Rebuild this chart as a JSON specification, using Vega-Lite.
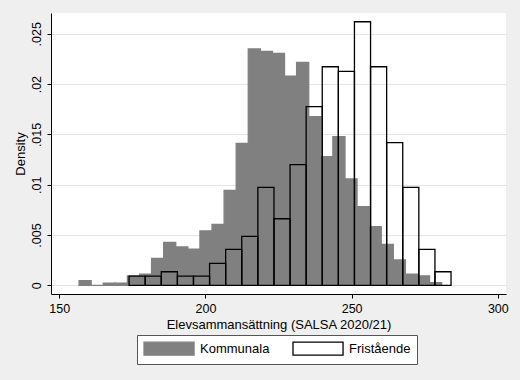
{
  "$schema": "https://vega.github.io/schema/vega-lite/v6.json",
  "width": 455,
  "height": 281,
  "autosize": {"type": "none"},
  "padding": {"left": 51, "top": 13, "right": 14, "bottom": 86},
  "background": "#efefef",
  "config": {
    "view": {"fill": "white", "stroke": null},
    "font": "Liberation Sans",
    "axis": {
      "domainColor": "black",
      "tickColor": "black",
      "labelColor": "black",
      "titleColor": "black",
      "labelFontSize": 12.5,
      "titleFontSize": 13,
      "titleFontWeight": "normal",
      "gridColor": "#e4e4e4",
      "tickSize": 4,
      "labelPadding": 4
    },
    "legend": {
      "orient": "none",
      "legendX": 86,
      "legendY": 322,
      "direction": "horizontal",
      "title": null,
      "symbolType": "M-1,-1H6.7V1H-1Z",
      "symbolSize": 169,
      "symbolStrokeWidth": 1.3,
      "labelOffset": 42,
      "labelFontSize": 13,
      "labelColor": "black",
      "columnPadding": 20,
      "padding": 6,
      "fillColor": "white",
      "strokeColor": "#555555",
      "cornerRadius": 0
    }
  },
  "data": {
    "values": [
      {"group": "Kommunala", "x0": 156.8, "x1": 160.93, "density": 0.00046},
      {"group": "Kommunala", "x0": 160.93, "x1": 165.07, "density": 0},
      {"group": "Kommunala", "x0": 165.07, "x1": 169.2, "density": 0.00023},
      {"group": "Kommunala", "x0": 169.2, "x1": 173.33, "density": 0.00023},
      {"group": "Kommunala", "x0": 173.33, "x1": 177.47, "density": 0.00095},
      {"group": "Kommunala", "x0": 177.47, "x1": 181.6, "density": 0.00112},
      {"group": "Kommunala", "x0": 181.6, "x1": 185.73, "density": 0.00268},
      {"group": "Kommunala", "x0": 185.73, "x1": 189.86, "density": 0.00427},
      {"group": "Kommunala", "x0": 189.86, "x1": 194.0, "density": 0.00381},
      {"group": "Kommunala", "x0": 194.0, "x1": 198.13, "density": 0.00361},
      {"group": "Kommunala", "x0": 198.13, "x1": 202.26, "density": 0.0054},
      {"group": "Kommunala", "x0": 202.26, "x1": 206.4, "density": 0.00606},
      {"group": "Kommunala", "x0": 206.4, "x1": 210.53, "density": 0.00944},
      {"group": "Kommunala", "x0": 210.53, "x1": 214.66, "density": 0.01411},
      {"group": "Kommunala", "x0": 214.66, "x1": 218.8, "density": 0.02349},
      {"group": "Kommunala", "x0": 218.8, "x1": 222.93, "density": 0.02326},
      {"group": "Kommunala", "x0": 222.93, "x1": 227.06, "density": 0.02306},
      {"group": "Kommunala", "x0": 227.06, "x1": 231.19, "density": 0.0208},
      {"group": "Kommunala", "x0": 231.19, "x1": 235.33, "density": 0.02216},
      {"group": "Kommunala", "x0": 235.33, "x1": 239.46, "density": 0.01676},
      {"group": "Kommunala", "x0": 239.46, "x1": 243.59, "density": 0.01278},
      {"group": "Kommunala", "x0": 243.59, "x1": 247.73, "density": 0.01477},
      {"group": "Kommunala", "x0": 247.73, "x1": 251.86, "density": 0.01057},
      {"group": "Kommunala", "x0": 251.86, "x1": 255.99, "density": 0.00781},
      {"group": "Kommunala", "x0": 255.99, "x1": 260.13, "density": 0.00583},
      {"group": "Kommunala", "x0": 260.13, "x1": 264.26, "density": 0.00408},
      {"group": "Kommunala", "x0": 264.26, "x1": 268.39, "density": 0.00252},
      {"group": "Kommunala", "x0": 268.39, "x1": 272.52, "density": 0.00112},
      {"group": "Kommunala", "x0": 272.52, "x1": 276.66, "density": 0.00094},
      {"group": "Kommunala", "x0": 276.66, "x1": 280.79, "density": 0.00026},
      {"group": "Fristående", "x0": 173.9, "x1": 179.41, "density": 0.00092},
      {"group": "Fristående", "x0": 179.41, "x1": 184.91, "density": 0.00092},
      {"group": "Fristående", "x0": 184.91, "x1": 190.42, "density": 0.00135},
      {"group": "Fristående", "x0": 190.42, "x1": 195.92, "density": 0.00092},
      {"group": "Fristående", "x0": 195.92, "x1": 201.43, "density": 0.00092},
      {"group": "Fristående", "x0": 201.43, "x1": 206.93, "density": 0.00219},
      {"group": "Fristående", "x0": 206.93, "x1": 212.44, "density": 0.00358},
      {"group": "Fristående", "x0": 212.44, "x1": 217.94, "density": 0.00487},
      {"group": "Fristående", "x0": 217.94, "x1": 223.45, "density": 0.00974},
      {"group": "Fristående", "x0": 223.45, "x1": 228.95, "density": 0.00662},
      {"group": "Fristående", "x0": 228.95, "x1": 234.46, "density": 0.01199},
      {"group": "Fristående", "x0": 234.46, "x1": 239.96, "density": 0.01776},
      {"group": "Fristående", "x0": 239.96, "x1": 245.47, "density": 0.02173},
      {"group": "Fristående", "x0": 245.47, "x1": 250.97, "density": 0.02127},
      {"group": "Fristående", "x0": 250.97, "x1": 256.48, "density": 0.0262},
      {"group": "Fristående", "x0": 256.48, "x1": 261.98, "density": 0.02173},
      {"group": "Fristående", "x0": 261.98, "x1": 267.49, "density": 0.01418},
      {"group": "Fristående", "x0": 267.49, "x1": 272.99, "density": 0.00974},
      {"group": "Fristående", "x0": 272.99, "x1": 278.5, "density": 0.00358},
      {"group": "Fristående", "x0": 278.5, "x1": 284.0, "density": 0.00135}
    ]
  },
  "mark": {"type": "rect", "strokeWidth": 1.3},
  "encoding": {
    "x": {
      "field": "x0",
      "type": "quantitative",
      "scale": {"domain": [147.2, 302.8], "nice": false, "zero": false},
      "axis": {
        "values": [150, 200, 250, 300],
        "grid": false,
        "title": "Elevsammansättning (SALSA 2020/21)",
        "titlePadding": 4
      }
    },
    "x2": {"field": "x1"},
    "y": {
      "field": "density",
      "type": "quantitative",
      "scale": {"domain": [-0.00086, 0.02707], "nice": false, "zero": false},
      "axis": {
        "values": [0, 0.005, 0.01, 0.015, 0.02, 0.025],
        "title": "Density",
        "titlePadding": 3,
        "grid": true,
        "labelAngle": -90,
        "labelAlign": "center",
        "labelBaseline": "bottom",
        "labelExpr": "replace(toString(datum.value), /^0\\./, '.')"
      }
    },
    "y2": {"datum": 0},
    "fill": {
      "field": "group",
      "type": "nominal",
      "scale": {"domain": ["Kommunala", "Fristående"], "range": ["#808080", "transparent"]}
    },
    "stroke": {
      "field": "group",
      "type": "nominal",
      "scale": {"domain": ["Kommunala", "Fristående"], "range": ["#808080", "#000000"]}
    }
  }
}
